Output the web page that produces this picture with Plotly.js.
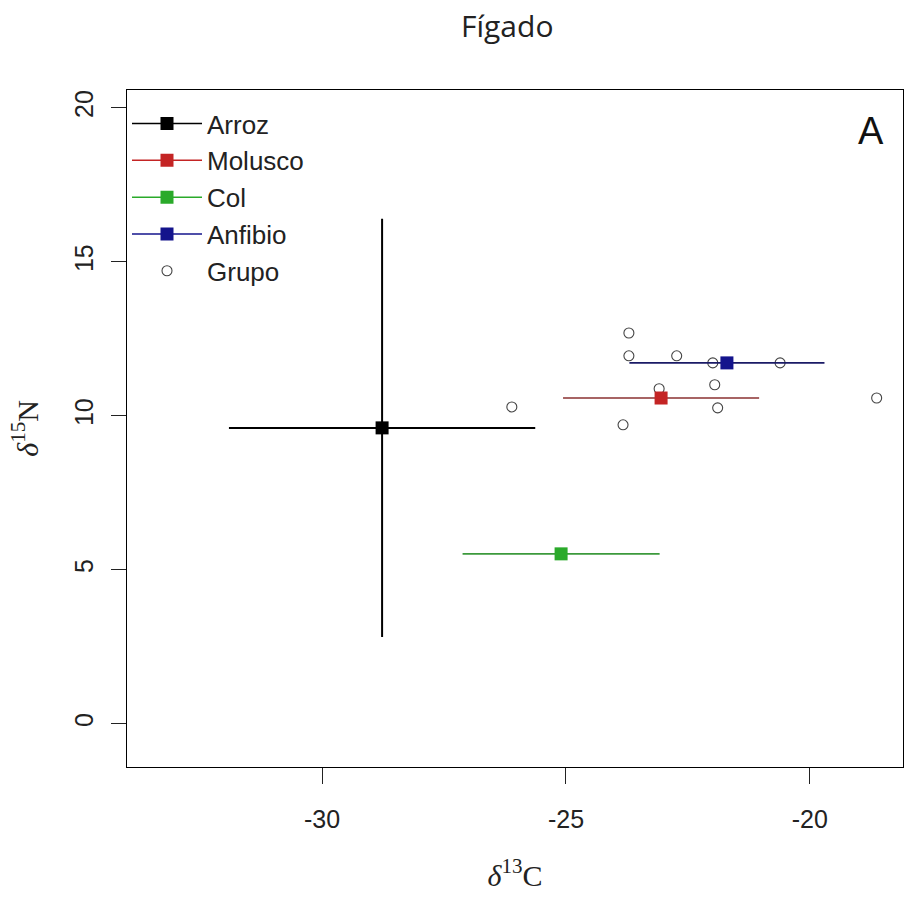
<!DOCTYPE html>
<html>
<head>
<meta charset="utf-8">
<script src="https://cdn.plot.ly/plotly-3.0.1.min.js"></script>
<style>html,body{margin:0;padding:0;background:#fff;}#chart{width:907px;height:899px;}</style>
</head>
<body>
<div id="chart"></div>
<script>
// Mean sources (δ13C, δ15N) with SD
const sources = ["Arroz", "Molusco", "Col", "Anfibio"];
const meanC = [-28.77, -23.05, -25.10, -21.70];
const meanN = [9.61, 10.58, 5.52, 11.72];
const sdC = [3.14, 2.01, 2.02, 2.00];
const sdN = [6.79, 0, 0, 0];
const sourceColors = ["#000000", "#c42424", "#2aaa2a", "#14148c"];
const barColors = ["#000000", "#8a3030", "#3c9a3c", "#1a1a66"];

// Group (consumer) points
const grupoC = [-23.71, -23.71, -22.73, -21.99, -20.61, -21.95, -23.09, -21.89, -23.83, -26.11, -18.63];
const grupoN = [12.69, 11.95, 11.95, 11.72, 11.72, 11.01, 10.88, 10.26, 9.71, 10.29, 10.58];

const xTicks = [-30, -25, -20];
const yTicks = [0, 5, 10, 15, 20];

const traces = [];
traces.push({
  type: "scatter", mode: "markers", name: "Grupo",
  x: grupoC, y: grupoN, legendrank: 2000,
  marker: {symbol: "circle-open", size: 10, color: "#444444", line: {width: 1.1, color: "#444444"}},
  hoverinfo: "x+y"
});
sources.forEach((s, i) => {
  traces.push({
    type: "scatter", mode: "lines+markers", name: s,
    x: [meanC[i]], y: [meanN[i]], legendrank: 100 + i,
    line: {color: sourceColors[i], width: 1.5},
    marker: {symbol: "square", size: 13, color: sourceColors[i]},
    error_x: {type: "data", array: [sdC[i]], visible: true, width: 0, thickness: i === 0 ? 2 : 1.6, color: barColors[i]},
    error_y: {type: "data", array: [sdN[i]], visible: sdN[i] > 0, width: 0, thickness: 2, color: barColors[i]}
  });
});

const layout = {
  width: 907, height: 899,
  margin: {l: 127, r: 4, t: 90, b: 132},
  paper_bgcolor: "#ffffff", plot_bgcolor: "#ffffff",
  font: {family: "Liberation Sans, Arial, sans-serif", color: "#222"},
  title: {text: "Fígado", font: {family: "Open Sans, sans-serif", size: 30, color: "#222"},
          xref: "paper", x: 0.49, xanchor: "center", yref: "container", y: 0.97, yanchor: "middle"},
  xaxis: {
    range: [-34.0, -18.09], showgrid: false, zeroline: false,
    showline: true, mirror: true, linecolor: "#000", linewidth: 1.2,
    ticks: "outside", ticklen: 16, tickcolor: "#222", tickwidth: 1,
    tickvals: xTicks, ticktext: xTicks.map(String),
    tickfont: {size: 25, color: "#222"}, ticklabelstandoff: 14,
    title: {text: "<i>δ</i><sup>13</sup>C", font: {family: "Liberation Serif, serif", size: 30, color: "#222"}, standoff: 32}
  },
  yaxis: {
    range: [-1.40, 20.58], showgrid: false, zeroline: false,
    showline: true, mirror: true, linecolor: "#000", linewidth: 1.2,
    ticks: "outside", ticklen: 15, tickcolor: "#222", tickwidth: 1,
    tickvals: yTicks, ticktext: yTicks.map(String), tickangle: -90,
    tickfont: {size: 25, color: "#222"}, ticklabelstandoff: 8,
    title: {text: "<i>δ</i><sup>15</sup>N", font: {family: "Liberation Serif, serif", size: 30, color: "#222"}, standoff: 22}
  },
  showlegend: true,
  legend: {x: 0.0, y: 0.985, xanchor: "left", yanchor: "top", bgcolor: "rgba(0,0,0,0)",
           font: {size: 26, color: "#222"}, tracegroupgap: 0, itemwidth: 70},
  annotations: [{text: "A", xref: "paper", yref: "paper", x: 0.959, y: 0.939, showarrow: false,
                 xanchor: "center", yanchor: "middle", font: {size: 38, color: "#111"}}]
};

Plotly.newPlot("chart", traces, layout, {displayModeBar: false, staticPlot: true});
</script>
</body>
</html>
